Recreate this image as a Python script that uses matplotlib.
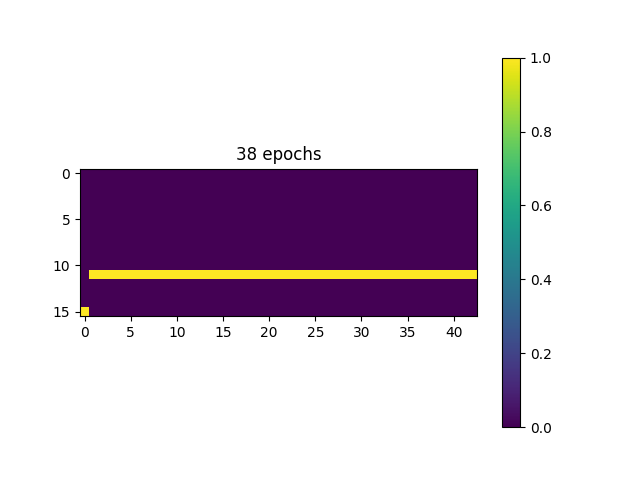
import matplotlib
matplotlib.use("Agg")
import matplotlib.pyplot as plt
import numpy as np

n_rows = 16
n_cols = 43
title = "38 epochs"
# cells set to 1: (row, first col, last col)
on_cells = [(11, 1, 42), (15, 0, 0)]

grid = np.zeros((n_rows, n_cols))
for r, c0, c1 in on_cells:
    grid[r, c0:c1 + 1] = 1

fig, ax = plt.subplots()
im = ax.imshow(grid, cmap='viridis')
ax.set_title(title)
fig.colorbar(im, ax=ax)
plt.savefig("out.png")
